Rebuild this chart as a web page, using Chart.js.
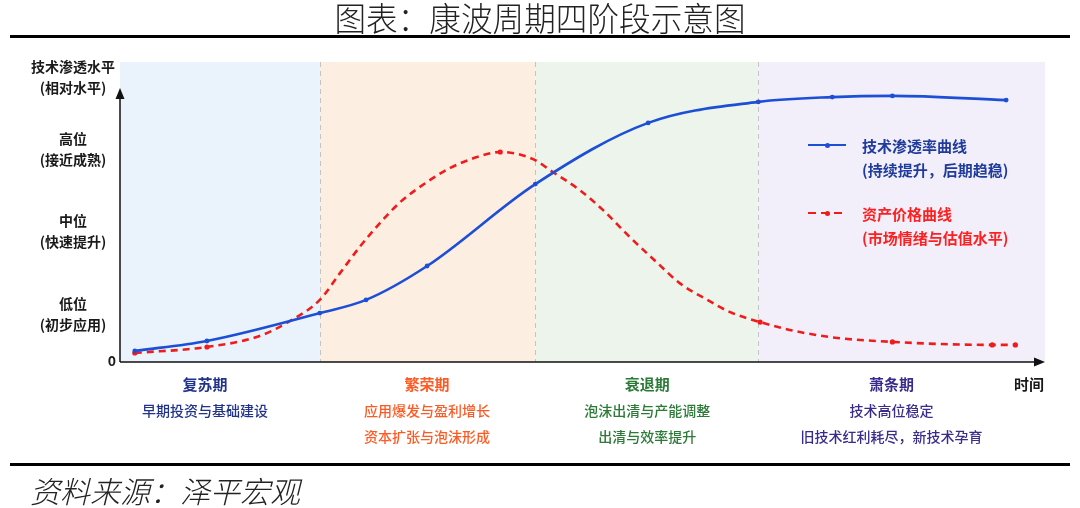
<!DOCTYPE html>
<html>
<head>
<meta charset="utf-8">
<script src="https://cdn.jsdelivr.net/npm/chart.js@4.4.1/dist/chart.umd.min.js"></script>
<style>
  html,body{margin:0;padding:0;background:#fff;}
  body{width:1080px;height:508px;position:relative;overflow:hidden;font-family:"Noto Sans CJK SC","Noto Sans",sans-serif;}
  #cv{position:absolute;left:0;top:0;width:1080px;height:508px;}
  .t{position:absolute;white-space:nowrap;transform:translate(-50%,-50%);line-height:1;}
  .rule{position:absolute;left:10px;width:1060px;height:3px;background:#000;}
  .ylab{font-size:14px;font-weight:700;color:#1a1a1a;}
  .pn{font-size:15px;font-weight:700;}
  .pd{font-size:14px;font-weight:500;}
  .lg{position:absolute;white-space:nowrap;font-size:15px;font-weight:700;line-height:1;transform:translateY(-50%);}
</style>
</head>
<body>
<canvas id="cv" width="1080" height="508"></canvas>

<div class="t" style="left:540px;top:17px;font-size:31px;font-weight:300;color:#222;transform:translate(-50%,-50%) scale(1.02,1.05);">图表：康波周期四阶段示意图</div>
<div class="rule" style="top:35px;"></div>
<div class="rule" style="top:463px;"></div>
<div class="t" style="left:30px;top:490px;transform:translateY(-50%);font-size:30px;font-weight:300;font-style:italic;color:#222;">资料来源：泽平宏观</div>

<div id="labels"></div>

<script>
// ---- data ----
const phaseNames = ["复苏期", "繁荣期", "衰退期", "萧条期"];
const phaseDesc1 = ["早期投资与基础建设", "应用爆发与盈利增长", "泡沫出清与产能调整", "技术高位稳定"];
const phaseDesc2 = ["", "资本扩张与泡沫形成", "出清与效率提升", "旧技术红利耗尽，新技术孕育"];
const phaseBounds = [0, 21.6, 44.9, 69.0, 100];
const phaseLabelPos = [9.2, 33.2, 57.0, 83.4];
const phaseColors = ["#eaf3fc", "#fdeee2", "#edf4eb", "#f3effa"];
const phaseTextColors = ["#22348a", "#ff5a24", "#2b7a36", "#3a2c8c"];

const yTickValues = [0, 16.2, 43.8, 71.2];
const yTickLabels = [["0"], ["低位", "(初步应用)"], ["中位", "(快速提升)"], ["高位", "(接近成熟)"]];
const yAxisTitle = ["技术渗透水平", "(相对水平)"];
const xAxisTitle = "时间";

const timeBlue = [1.6, 9.4, 21.6, 26.6, 33.2, 44.9, 57.1, 69.0, 77.0, 83.5, 95.8];
const techPenetration = [3.7, 7.0, 16.3, 20.7, 32.0, 59.3, 79.7, 86.7, 88.3, 88.7, 87.3];

const timeRed = [1.6, 9.4, 15.1, 18.4, 21.6, 23.8, 25.9, 28.1, 30.3, 33.2, 35.7, 38.6, 41.1, 44.6, 46.8, 49.7, 52.2, 55.1, 58.1, 60.5, 63.5, 65.9, 69.2, 72.4, 76.8, 83.5, 94.3, 96.8];
const assetPrice = [3.0, 5.0, 8.7, 13.7, 20.7, 29.7, 38.3, 46.3, 53.3, 60.0, 64.7, 68.3, 70.0, 67.7, 63.3, 57.3, 50.7, 41.7, 33.0, 26.3, 20.7, 16.7, 13.3, 10.7, 8.3, 6.7, 5.7, 5.7];
const redMarkerIdx = [0, 1, 12, 22, 25, 26, 27];

const seriesNames = ["技术渗透率曲线", "资产价格曲线"];
const seriesNotes = ["(持续提升，后期趋稳)", "(市场情绪与估值水平)"];
const blue = "#1d4fd6";
const red = "#f01c1c";

const yAxisTop = 91.3;

const bgPlugin = {
  id: "bg",
  beforeDatasetsDraw(chart) {
    const {ctx, chartArea: a, scales: {x, y}} = chart;
    ctx.save();
    for (let i = 0; i < 4; i++) {
      const x0 = x.getPixelForValue(phaseBounds[i]);
      const x1 = x.getPixelForValue(phaseBounds[i + 1]);
      ctx.fillStyle = phaseColors[i];
      ctx.fillRect(x0, a.top, x1 - x0, a.bottom - a.top);
    }
    ctx.strokeStyle = "#c4c4c4";
    ctx.lineWidth = 1;
    ctx.setLineDash([5, 4]);
    for (let i = 1; i < 4; i++) {
      const px = Math.round(x.getPixelForValue(phaseBounds[i])) + 0.5;
      ctx.beginPath();
      ctx.moveTo(px, a.top);
      ctx.lineTo(px, a.bottom);
      ctx.stroke();
    }
    ctx.setLineDash([]);
    // axes
    const x0 = x.getPixelForValue(0), xe = x.getPixelForValue(100);
    const y0 = y.getPixelForValue(0), yt = y.getPixelForValue(yAxisTop);
    ctx.strokeStyle = "#111";
    ctx.fillStyle = "#111";
    ctx.lineWidth = 1.5;
    ctx.beginPath();
    ctx.moveTo(x0, y0); ctx.lineTo(xe - 8, y0);
    ctx.moveTo(x0, y0); ctx.lineTo(x0, yt + 8);
    ctx.stroke();
    ctx.beginPath();
    ctx.moveTo(xe, y0); ctx.lineTo(xe - 11, y0 - 4.5); ctx.lineTo(xe - 11, y0 + 4.5); ctx.closePath();
    ctx.fill();
    ctx.beginPath();
    ctx.moveTo(x0, yt); ctx.lineTo(x0 - 4.5, yt + 11); ctx.lineTo(x0 + 4.5, yt + 11); ctx.closePath();
    ctx.fill();
    ctx.restore();
  }
};

const chart = new Chart(document.getElementById("cv"), {
  type: "scatter",
  data: {
    datasets: [
      {
        label: seriesNames[0],
        data: timeBlue.map((t, i) => ({x: t, y: techPenetration[i]})),
        showLine: true,
        borderColor: blue,
        backgroundColor: blue,
        borderWidth: 2.6,
        pointRadius: 2.4,
        pointBorderWidth: 0,
        cubicInterpolationMode: "monotone",
      },
      {
        label: seriesNames[1],
        data: timeRed.map((t, i) => ({x: t, y: assetPrice[i]})),
        showLine: true,
        borderColor: red,
        backgroundColor: red,
        borderWidth: 2.6,
        borderDash: [7, 5],
        pointRadius: timeRed.map((_, i) => redMarkerIdx.includes(i) ? 2.6 : 0),
        pointBorderWidth: 0,
        cubicInterpolationMode: "monotone",
      }
    ]
  },
  options: {
    responsive: false,
    animation: false,
    devicePixelRatio: 1,
    layout: {padding: {left: 120, right: 35, top: 62, bottom: 146}},
    plugins: {legend: {display: false}, tooltip: {enabled: false}},
    scales: {
      x: {type: "linear", min: 0, max: 100, display: false},
      y: {type: "linear", min: 0, max: 100, display: false}
    }
  },
  plugins: [bgPlugin]
});

// ---- text labels (HTML) positioned via chart scales ----
const box = document.getElementById("labels");
function add(html, style, cls) {
  const d = document.createElement("div");
  d.className = cls || "t";
  d.setAttribute("style", style);
  d.textContent = html;
  box.appendChild(d);
}
const sx = chart.scales.x, sy = chart.scales.y;
const ylx = 73;
add(yAxisTitle[0], `left:${ylx}px;top:66px;`, "t ylab");
add(yAxisTitle[1], `left:${ylx}px;top:87px;`, "t ylab");
yTickValues.forEach((v, i) => {
  const py = sy.getPixelForValue(v);
  const lines = yTickLabels[i];
  if (lines.length === 1) {
    add(lines[0], `left:112px;top:${py - 2}px;`, "t ylab");
  } else {
    add(lines[0], `left:${ylx}px;top:${py - 10.5}px;`, "t ylab");
    add(lines[1], `left:${ylx}px;top:${py + 10.5}px;`, "t ylab");
  }
});
phaseNames.forEach((n, i) => {
  const px = sx.getPixelForValue(phaseLabelPos[i]);
  add(n, `left:${px}px;top:383px;color:${phaseTextColors[i]};`, "t pn");
  add(phaseDesc1[i], `left:${px}px;top:410px;color:${phaseTextColors[i]};`, "t pd");
  if (phaseDesc2[i]) add(phaseDesc2[i], `left:${px}px;top:436px;color:${phaseTextColors[i]};`, "t pd");
});
add(xAxisTitle, `left:1029px;top:383px;color:#1a1a1a;`, "t pn");

// legend
const legendY = [145, 213];
const legendColors = [blue, red];
const legendTextColors = ["#1f3b9c", "#ff1f1f"];
legendY.forEach((ly, i) => {
  const line = document.createElement("div");
  line.style.cssText = `position:absolute;left:808px;top:${ly - 1.3}px;width:38px;height:2.6px;` +
    (i === 0 ? `background:${legendColors[i]};` :
      `background:repeating-linear-gradient(90deg, ${red} 0 8px, transparent 8px 13px);`);
  box.appendChild(line);
  const dot = document.createElement("div");
  dot.style.cssText = `position:absolute;left:${827 - 2.5}px;top:${ly - 2.5}px;width:5px;height:5px;border-radius:50%;background:${legendColors[i]};`;
  box.appendChild(dot);
  add(seriesNames[i], `left:862px;top:${ly}px;color:${legendTextColors[i]};`, "lg");
  add(seriesNotes[i], `left:862px;top:${ly + 24}px;color:${legendTextColors[i]};`, "lg");
});
</script>
</body>
</html>
